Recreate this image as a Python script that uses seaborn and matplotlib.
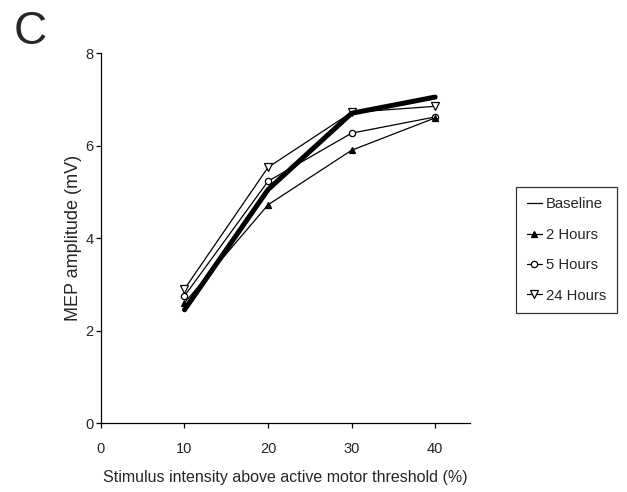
import numpy as np
import pandas as pd
import matplotlib
matplotlib.use("Agg")
import matplotlib.pyplot as plt
from matplotlib.lines import Line2D
import seaborn as sns

# Stimulus intensity above active motor threshold (%)
intensity = [10, 20, 30, 40]

# MEP amplitude (mV) per time point
baseline = [2.45, 5.05, 6.70, 7.05]
hours_2 = [2.60, 4.72, 5.90, 6.60]
hours_5 = [2.75, 5.23, 6.27, 6.62]
hours_24 = [2.90, 5.53, 6.72, 6.85]

series_names = ["Baseline", "2 Hours", "5 Hours", "24 Hours"]

df = pd.DataFrame({
    "intensity": intensity * 4,
    "amplitude": baseline + hours_2 + hours_5 + hours_24,
    "session": np.repeat(series_names, len(intensity)),
})

sns.set_style("ticks")
plt.rcParams["font.family"] = ["Liberation Sans", "DejaVu Sans"]

fig = plt.figure(figsize=(6.27, 4.92), dpi=100)
ax = fig.add_axes([0.161, 0.140, 0.589, 0.752])

styles = {
    "Baseline": dict(lw=3.6, marker=None, mfc=None, ms=0),
    "2 Hours": dict(lw=0.9, marker="^", mfc="black", ms=5),
    "5 Hours": dict(lw=0.9, marker="o", mfc="white", ms=4.5),
    "24 Hours": dict(lw=0.9, marker="v", mfc="white", ms=5.5),
}

# thin lines first, baseline on top
for name in ["24 Hours", "5 Hours", "2 Hours", "Baseline"]:
    sub = df[df["session"] == name]
    st = styles[name]
    kw = dict(color="black", linewidth=st["lw"], ax=ax)
    if st["marker"]:
        kw.update(marker=st["marker"], markerfacecolor=st["mfc"],
                  markeredgecolor="black", markersize=st["ms"], markeredgewidth=0.9)
    sns.lineplot(data=sub, x="intensity", y="amplitude", **kw)

ax.set_xlim(0, 44.2)
ax.set_ylim(0, 8)
ax.set_xticks([0, 10, 20, 30, 40])
ax.set_yticks([0, 2, 4, 6, 8])
ax.tick_params(labelsize=10.5, length=3.5, width=0.9, color="black")
ax.tick_params(axis="x", pad=10)
ax.tick_params(axis="y", pad=2)
for s in ["left", "bottom"]:
    ax.spines[s].set_linewidth(0.9)
    ax.spines[s].set_color("black")
sns.despine(ax=ax)

ax.set_xlabel("Stimulus intensity above active motor threshold (%)", fontsize=11.5, labelpad=10)
ax.set_ylabel("MEP amplitude (mV)", fontsize=13, labelpad=2)

# legend proxies: thin lines with markers
handles = []
for name in series_names:
    st = styles[name]
    handles.append(Line2D([], [], color="black", lw=0.9, marker=st["marker"],
                          markerfacecolor=st["mfc"], markeredgecolor="black",
                          markersize=st["ms"], markeredgewidth=0.9))
leg = ax.legend(handles, series_names,
                loc="upper left", bbox_to_anchor=(1.125, 0.638),
                frameon=True, fancybox=False, edgecolor="black",
                fontsize=10.7, handlelength=1.0, handletextpad=0.3,
                labelspacing=1.1, borderpad=0.7, borderaxespad=0)
leg.get_frame().set_linewidth(0.9)

fig.text(0.022, 0.98, "C", fontsize=33, va="top", ha="left")

fig.savefig("out.png", dpi=100)
